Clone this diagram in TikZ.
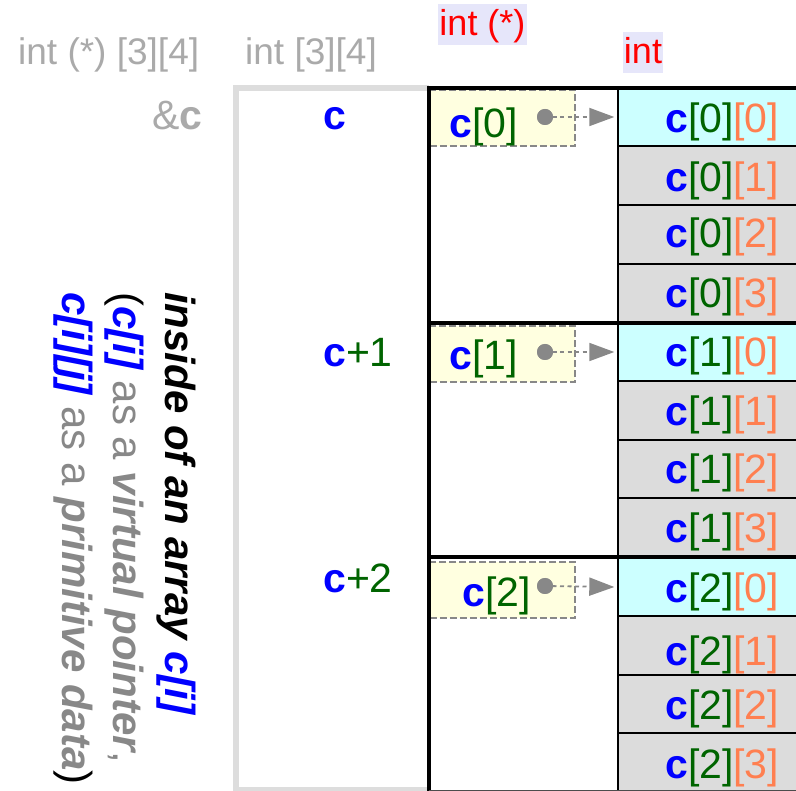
\documentclass[tikz,border=0pt]{standalone}
\usepackage{fontspec}
\setmainfont{Liberation Sans}
\usetikzlibrary{arrows.meta}
\definecolor{cblue}{HTML}{0000FF}
\definecolor{cgreen}{HTML}{006400}
\definecolor{corange}{HTML}{FF7F50}
\definecolor{lgray}{HTML}{AAAAAA}
\definecolor{mgray}{HTML}{888888}
\definecolor{fgray}{HTML}{DDDDDD}
\definecolor{cellcyan}{HTML}{CCFFFF}
\definecolor{cellgray}{HTML}{DCDCDC}
\definecolor{ptryellow}{HTML}{FFFFE0}
\definecolor{lav}{HTML}{E6E6FA}
\definecolor{cred}{HTML}{FF0000}
\newcommand\cB[1]{\textcolor{cblue}{\textbf{#1}}}
\newcommand\cG[1]{\textcolor{cgreen}{#1}}
\newcommand\cO[1]{\textcolor{corange}{#1}}
\tikzset{
  toplbl/.style={font=\fontsize{37}{44}\selectfont, text=lgray, inner sep=0pt, anchor=base west},
  redlbl/.style={font=\fontsize{36}{43}\selectfont, text=cred, fill=lav, inner xsep=1pt, inner ysep=0pt, text height=32pt, text depth=9pt, anchor=base},
  celltxt/.style={font=\fontsize{41}{49}\selectfont, inner sep=0pt, anchor=base west},
  cellbox/.style={draw=none, inner sep=0pt, minimum width=190pt},
  ptrbox/.style={fill=ptryellow, draw=mgray, line width=2pt, dash pattern=on 7pt off 3pt, inner sep=0pt, minimum width=145pt, minimum height=56pt},
  rot/.style={font=\fontsize{42}{50}\selectfont, inner sep=0pt, anchor=base west, rotate=-90},
  ptrarrow/.style={draw=mgray, line width=1.8pt, dash pattern=on 4pt off 3.5pt, -{Triangle[length=25pt,width=18pt,fill=mgray]}},
  dot/.style={circle, fill=mgray, inner sep=0pt, minimum size=16pt}
}
\begin{document}
\begin{tikzpicture}[x=1pt,y=-1pt]
\useasboundingbox (0,0) rectangle (796,791);
\clip (0,0) rectangle (796,791);
\fill[white] (0,0) rectangle (796,791);

% int cells (fills)
\foreach \b/\ya/\yb/\yc/\yd/\ye in {0/88/146/205/264/323, 1/323/381/440/498/557, 2/557/616/675/733/791} {
  \fill[cellcyan] (619,\ya) rectangle (800,\yb);
  \fill[cellgray] (619,\yb) rectangle (800,\ye);
  \draw[line width=2pt] (619,\yb) -- (800,\yb) (619,\yc) -- (800,\yc) (619,\yd) -- (800,\yd);
}
\node[cellbox, minimum height=58pt] (c00) at (709.5,117) {};
\node[cellbox, minimum height=58pt] (c10) at (709.5,352) {};
\node[cellbox, minimum height=58pt] (c20) at (709.5,587) {};

% pointer boxes
\node[ptrbox] (p0) at (502.5,118) {};
\node[ptrbox] (p1) at (502.5,354) {};
\node[ptrbox] (p2) at (502.5,590) {};

% gray frame
\draw[fgray, line width=6pt] (236,791) -- (236,88) -- (429,88);
\draw[fgray, line width=4pt] (236,789) -- (429,789);

% black frame
\draw[line width=4pt] (429,791) -- (429,88) -- (800,88);
\draw[line width=4pt] (429,323) -- (800,323);
\draw[line width=4pt] (429,557) -- (800,557);
\draw[line width=2.5pt] (618,88) -- (618,791);
\draw[line width=3pt, black!70] (429,791) -- (800,791);

% dots and arrows
\node[dot] (d0) at (545,117) {};
\node[dot] (d1) at (545,352) {};
\node[dot] (d2) at (545,586) {};
\draw[ptrarrow] (d0.center) -- (c00.west);
\draw[ptrarrow] (d1.center) -- (c10.west);
\draw[ptrarrow] (d2.center) -- (c20.west);
\node[dot] at (545,117) {};
\node[dot] at (545,352) {};
\node[dot] at (545,586) {};

% pointer texts
\node[celltxt] (t0) at (449,138) {\cB{c}\cG{[0]}};
\node[celltxt] (t1) at (449,370) {\cB{c}\cG{[1]}};
\node[celltxt] (t2) at (462,607) {\cB{c}\cG{[2]}};

% cell texts
\node[celltxt] (e00) at (665,133) {\cB{c}\cG{[0]}\cO{[0]}};
\node[celltxt] (e01) at (665,192) {\cB{c}\cG{[0]}\cO{[1]}};
\node[celltxt] (e02) at (665,248) {\cB{c}\cG{[0]}\cO{[2]}};
\node[celltxt] (e03) at (665,308) {\cB{c}\cG{[0]}\cO{[3]}};
\node[celltxt] (e10) at (665,367) {\cB{c}\cG{[1]}\cO{[0]}};
\node[celltxt] (e11) at (665,426) {\cB{c}\cG{[1]}\cO{[1]}};
\node[celltxt] (e12) at (665,484) {\cB{c}\cG{[1]}\cO{[2]}};
\node[celltxt] (e13) at (665,543) {\cB{c}\cG{[1]}\cO{[3]}};
\node[celltxt] (e20) at (665,602) {\cB{c}\cG{[2]}\cO{[0]}};
\node[celltxt] (e21) at (665,665) {\cB{c}\cG{[2]}\cO{[1]}};
\node[celltxt] (e22) at (665,719) {\cB{c}\cG{[2]}\cO{[2]}};
\node[celltxt] (e23) at (665,778) {\cB{c}\cG{[2]}\cO{[3]}};

% address labels
\node[celltxt, anchor=base] (a0) at (335,130) {\cB{c}};
\node[celltxt] (a1) at (323,367) {\cB{c}\cG{+1}};
\node[celltxt] (a2) at (323,593) {\cB{c}\cG{+2}};
\node[celltxt, anchor=base east, text=lgray] (ac) at (203,130) {\&\textbf{c}};

% type labels
\node[toplbl] (ty1) at (18,65) {int (*) [3][4]};
\node[toplbl] (ty2) at (245,65) {int [3][4]};
\node[redlbl] (ty3) at (482.5,36) {int (*)};
\node[redlbl] (ty4) at (643,64) {int};

% rotated description
\node[rot] (r1) at (165,292) {\textbf{\textit{inside of an array \textcolor{cblue}{c[i]}}}};
\node[rot] (r2) at (113,292) {(\textbf{\textit{\textcolor{cblue}{c[i]}}}\ \textcolor{mgray}{as a \textbf{\textit{virtual pointer\nocorr}},}};
\node[rot] (r3) at (62,292) {\textbf{\textit{\textcolor{cblue}{c[i][j]}}}\ \textcolor{mgray}{as a \textbf{\textit{primitive data}}})};
\end{tikzpicture}
\end{document}
